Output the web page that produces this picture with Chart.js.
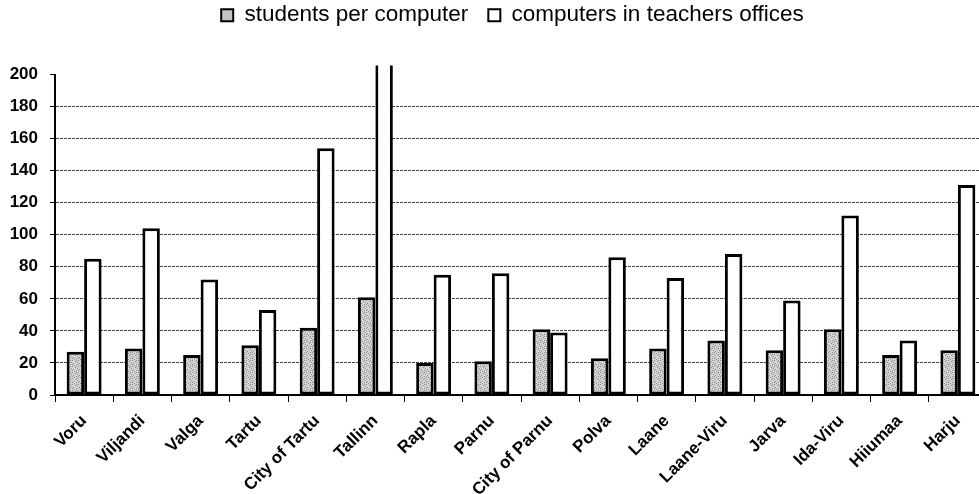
<!DOCTYPE html>
<html><head><meta charset="utf-8">
<script src="https://cdn.jsdelivr.net/npm/chart.js@4.4.1/dist/chart.umd.min.js"></script>
<style>
html,body{margin:0;padding:0;background:#fff;overflow:hidden}
body{width:979px;height:494px}
#wrap{width:987px;height:494px;position:relative}
</style>
</head><body>
<div id="wrap"><canvas id="c"></canvas></div>
<script>
const categories = ['Voru','Viljandi','Valga','Tartu','City of Tartu','Tallinn','Rapla','Parnu','City of Parnu','Polva','Laane','Laane-Viru','Jarva','Ida-Viru','Hiiumaa','Harju'];
const studentsPerComputer = [27, 29, 25, 31, 42, 61, 20, 21, 41, 23, 29, 34, 28, 41, 25, 28];
const computersInTeachersOffices = [85, 104, 72, 53, 154, 250, 75, 76, 39, 86, 73, 88, 59, 112, 34, 131];
const seriesNames = ['students per computer', 'computers in teachers offices'];
const yMin = 0, yMax = 200, yStep = 20;

Chart.defaults.font.family = "'Liberation Sans', Arial, sans-serif";
Chart.defaults.color = '#000';

function stipple() {
  const c = document.createElement('canvas');
  c.width = 6; c.height = 6;
  const g = c.getContext('2d');
  g.fillStyle = '#d4d4d4'; g.fillRect(0, 0, 6, 6);
  g.fillStyle = '#8c8c8c';
  [[0,0],[3,1],[1,3],[4,4],[2,5],[5,2],[0,4],[4,0]].forEach(p => g.fillRect(p[0], p[1], 1, 1));
  return g.createPattern(c, 'repeat');
}
const greyFill = stipple();

const legendGap = {
  id: 'legendGap',
  beforeInit(chart) {
    const lg = chart.legend;
    if (lg && !lg._patched) {
      const f = lg.fit;
      lg.fit = function () { f.call(this); this.height += 22; };
      lg._patched = true;
    }
  },
  afterLayout(chart) {
    const lg = chart.legend;
    lg.left += 19; lg.right += 19;
    lg.top -= 16; lg.bottom -= 16;
  }
};

new Chart(document.getElementById('c'), {
  type: 'bar',
  data: {
    labels: categories,
    datasets: [
      { label: seriesNames[0], data: studentsPerComputer, backgroundColor: greyFill,
        borderColor: '#000', borderWidth: 3, borderSkipped: false,
        clip: {left: 5, top: 9, right: 5, bottom: 5} },
      { label: seriesNames[1], data: computersInTeachersOffices, backgroundColor: '#fff',
        borderColor: '#000', borderWidth: 3, borderSkipped: false,
        clip: {left: 5, top: 9, right: 5, bottom: 5} }
    ]
  },
  options: {
    responsive: true, maintainAspectRatio: false, animation: false, devicePixelRatio: 1,
    datasets: { bar: { barPercentage: 1.0, categoryPercentage: 0.6 } },
    layout: { padding: { left: 0, right: 0, top: 0, bottom: 0 } },
    plugins: {
      tooltip: { enabled: false },
      legend: {
        position: 'top', align: 'center',
        labels: {
          boxWidth: 12, boxHeight: 12, padding: 20,
          font: { size: 22.5 }, color: '#000',
          generateLabels(chart) {
            return chart.data.datasets.map((d, i) => ({
              text: d.label, fillStyle: i === 0 ? '#c4c4c4' : '#fff',
              strokeStyle: '#000', lineWidth: 2, datasetIndex: i, hidden: false
            }));
          }
        }
      }
    },
    scales: {
      x: {
        afterFit(scale) { scale.height = 99; },
        grid: { display: true, drawOnChartArea: false, drawTicks: true, tickLength: 7, tickColor: '#000', tickWidth: 1, offset: true },
        border: { display: true, color: '#000', width: 2 },
        ticks: { autoSkip: false, minRotation: 45, maxRotation: 45, font: { size: 17, weight: 'bold' }, color: '#000', padding: 9 }
      },
      y: {
        min: yMin, max: yMax,
        afterFit(scale) { scale.width = 55; },
        grid: {
          drawOnChartArea: true, drawTicks: true, tickLength: 5, tickColor: '#000', tickWidth: 1, tickBorderDash: [],
          color: (ctx) => (ctx.tick && (ctx.tick.value === yMin || ctx.tick.value === yMax)) ? 'rgba(0,0,0,0)' : '#444',
          lineWidth: 1
        },
        border: { display: true, color: '#000', width: 2, dash: [3, 1] },
        ticks: { stepSize: yStep, font: { size: 17, weight: 'bold' }, color: '#000', padding: 12 }
      }
    }
  },
  plugins: [legendGap]
});
</script>
</body></html>
